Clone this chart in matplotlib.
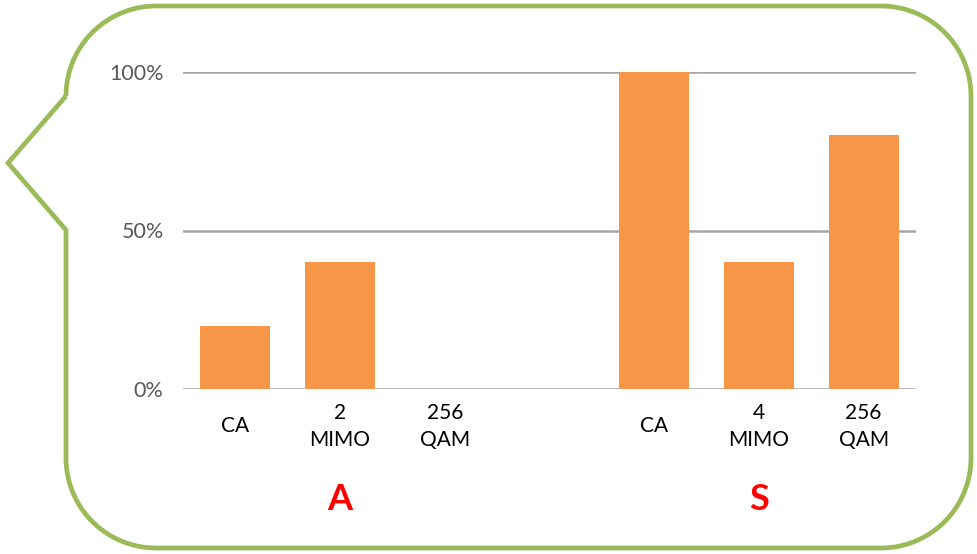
import numpy as np
import matplotlib.pyplot as plt
from matplotlib.path import Path
from matplotlib.patches import PathPatch

plt.rcParams['font.family'] = ['Lato', 'DejaVu Sans']

# Feature share per vendor; the empty slot separates the two groups
labels = ['CA', '2\nMIMO', '256\nQAM', '', 'CA', '4\nMIMO', '256\nQAM']
values = [0.20, 0.40, 0.0, None, 1.00, 0.40, 0.80]
groups = ['A', 'S']
group_slots = [1, 5]
yticks = [0, 0.5, 1.0]
ytick_labels = ['0%', '50%', '100%']

W, H = 978, 554
fig = plt.figure(figsize=(W / 100, H / 100), dpi=100)

# speech bubble outline, drawn in pixel coordinates over the whole figure
bg = fig.add_axes([0, 0, 1, 1])
bg.set_xlim(0, W)
bg.set_ylim(H, 0)
bg.axis('off')

L, R, T, B, r = 66, 971, 6, 548, 90


def arc(cx, cy, a0, a1, n=30):
    t = np.radians(np.linspace(a0, a1, n))
    return list(zip(cx + r * np.cos(t), cy - r * np.sin(t)))


pts = []
pts += arc(L + r, T + r, 180, 90)        # top-left
pts += arc(R - r, T + r, 90, 0)          # top-right
pts += arc(R - r, B - r, 0, -90)         # bottom-right
pts += arc(L + r, B - r, 270, 180)       # bottom-left
pts += [(L, 230), (8, 163), (L, T + r)]  # pointer
bubble = PathPatch(Path(pts), facecolor='white', edgecolor='#9BBB59',
                   linewidth=3.4, joinstyle='miter')
bg.add_patch(bubble)

ax = fig.add_axes([183 / W, (H - 389) / H, (916 - 183) / W, (389 - 72) / H])
ax.patch.set_alpha(0)

x = np.arange(len(labels))
for xi, v in zip(x, values):
    if v is not None:
        ax.bar(xi, v, width=0.67, color='#F79646', zorder=3)

ax.set_xlim(-0.5, len(labels) - 0.5)
ax.set_ylim(0, 1.0)
ax.set_yticks(yticks)
ax.set_yticklabels(ytick_labels, fontsize=15.5, color='#595959')
ax.tick_params(axis='y', length=0, pad=14)
ax.set_xticks([])
ax.grid(axis='y', color='#A6A6A6', linewidth=1.8, zorder=1)
for s in ax.spines.values():
    s.set_visible(False)

tr = ax.get_xaxis_transform()
for xi, lab in zip(x, labels):
    ax.text(xi, -0.118, lab, transform=tr, ha='center', va='center',
            fontsize=15, color='black', linespacing=1.4)

for g, slot in zip(groups, group_slots):
    ax.text(slot, -0.35, g, transform=tr, ha='center', va='center',
            fontsize=26, fontweight='bold', color='#FF0000')

fig.savefig('out.png', dpi=100)
